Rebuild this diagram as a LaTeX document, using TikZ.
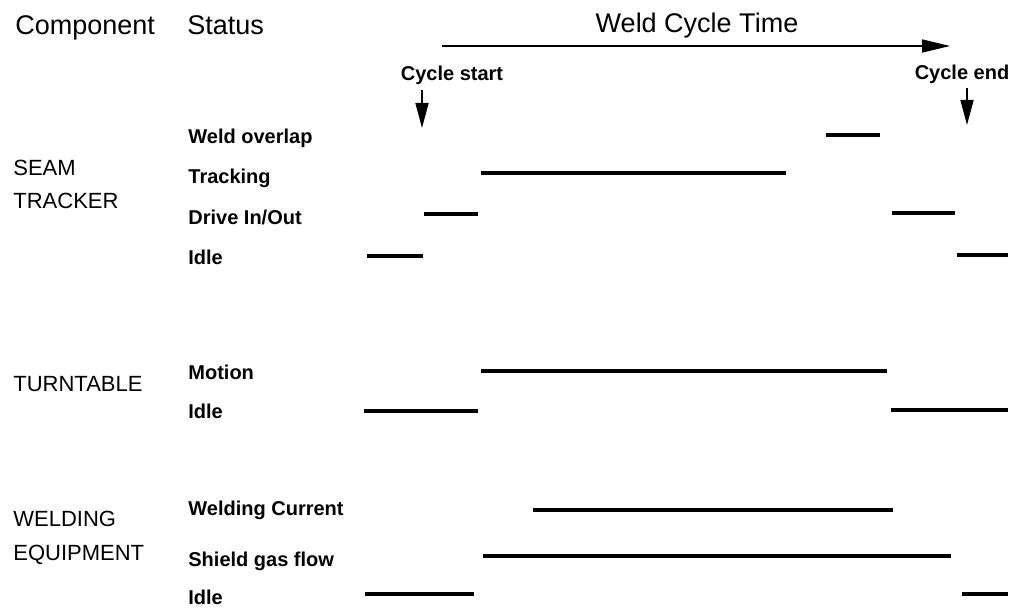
\documentclass[tikz,border=0pt]{standalone}
\usepackage{fontspec}
\setmainfont{Liberation Sans}
\usetikzlibrary{arrows.meta}

\begin{document}
\begin{tikzpicture}[x=0.5pt, y=-0.5pt,
    bar/.style={line width=2pt},
    head/.style={font=\fontsize{13.5}{16}\selectfont, inner sep=0pt, anchor=base west},
    part/.style={font=\fontsize{11}{13}\selectfont, inner sep=0pt, anchor=base west},
    state/.style={font=\bfseries\fontsize{10}{12}\selectfont, inner sep=0pt, anchor=base west}]

    \useasboundingbox (0,0) rectangle (1017,609);

    % Column headings
    \node[head] (component) at (15,35) {Component};
    \node[head] (status) at (187,35) {Status};
    \node[head, anchor=base] (cycletime) at (697,33) {Weld Cycle Time};

    % Time arrow and cycle markers
    \coordinate (T1) at (442,46);
    \coordinate (T2) at (950,46);
    \draw[line width=0.8pt, -{Triangle[length=14pt, width=6.5pt]}] (T1) -- (T2);

    \node[state, anchor=base] (cstart) at (452,81) {Cycle start};
    \node[state, anchor=base] (cend) at (962,80) {Cycle end};
    \coordinate (S1) at (422,90);
    \coordinate (S2) at (422,128);
    \coordinate (E1) at (967,88);
    \coordinate (E2) at (967,125);
    \draw[line width=0.8pt, -{Triangle[length=12.5pt, width=6.5pt]}] (S1) -- (S2);
    \draw[line width=0.8pt, -{Triangle[length=12.5pt, width=6.5pt]}] (E1) -- (E2);

    % Seam tracker
    \node[part] (seam) at (13,176) {SEAM};
    \node[part] (tracker) at (13,209) {TRACKER};
    \node[state] (overlap) at (188,144) {Weld overlap};
    \node[state] (tracking) at (188,184) {Tracking};
    \node[state] (drive) at (188,225) {Drive In/Out};
    \node[state] (stidle) at (188,264) {Idle};

    \draw[bar] (826,135) -- (880,135);
    \draw[bar] (481,173) -- (786,173);
    \draw[bar] (424,214) -- (478,214);
    \draw[bar] (892,213) -- (955,213);
    \draw[bar] (367,256) -- (423,256);
    \draw[bar] (957,255) -- (1008,255);

    % Turntable
    \node[part] (turntable) at (13,391) {TURNTABLE};
    \node[state] (motion) at (188,379) {Motion};
    \node[state] (ttidle) at (188,418) {Idle};

    \draw[bar] (481,371) -- (887,371);
    \draw[bar] (364,411) -- (478,411);
    \draw[bar] (891,410) -- (1008,410);

    % Welding equipment
    \node[part] (welding) at (13,526) {WELDING};
    \node[part] (equipment) at (13,560) {EQUIPMENT};
    \node[state] (current) at (188,515) {Welding Current};
    \node[state] (gas) at (188,566) {Shield gas flow};
    \node[state] (weidle) at (188,604) {Idle};

    \draw[bar] (533,510) -- (893,510);
    \draw[bar] (483,556) -- (951,556);
    \draw[bar] (365,594) -- (474,594);
    \draw[bar] (962,594) -- (1008,594);

\end{tikzpicture}
\end{document}
